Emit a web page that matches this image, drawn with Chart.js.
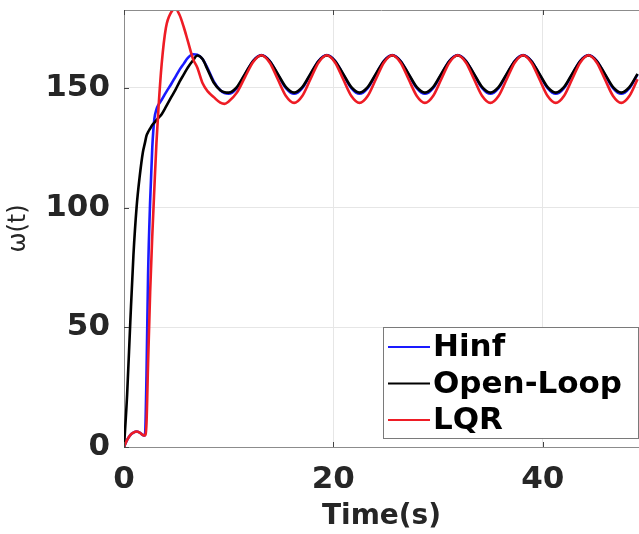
<!DOCTYPE html>
<html>
<head>
<meta charset="utf-8">
<script src="https://cdn.jsdelivr.net/npm/chart.js@4.4.1/dist/chart.umd.min.js"></script>
<style>
html,body{margin:0;padding:0;background:#fff;}
#wrap{width:639px;height:534px;position:relative;}
</style>
</head>
<body>
<div id="wrap"><canvas id="c" width="639" height="534"></canvas></div>
<script>
// time samples (s)
const timeS = [0, 0.3, 0.6, 0.9, 1.2, 1.5, 1.8, 2.0, 2.15, 2.3, 2.5, 2.7, 2.9, 3.1, 3.3, 3.6, 4.0, 4.5, 4.9, 5.3, 5.7, 6.1, 6.6, 7.0, 7.5, 8.0, 8.6, 9.2, 9.6,
  10.0, 10.78, 11.56, 12.34, 13.13, 13.91, 14.69, 15.47, 16.25, 17.03, 17.81, 18.59, 19.38, 20.16, 20.94, 21.72, 22.5, 23.28, 24.06, 24.84,
  25.63, 26.41, 27.19, 27.97, 28.75, 29.53, 30.31, 31.09, 31.88, 32.66, 33.44, 34.22, 35.0, 35.78, 36.56, 37.34, 38.13, 38.91, 39.69, 40.47,
  41.25, 42.03, 42.81, 43.59, 44.38, 45.16, 45.94, 46.72, 47.5, 48.28, 49.06];

const hinf = [0, 3, 5, 6, 6.5, 6, 5, 4.8, 30, 72, 103, 125, 137, 141, 143, 145, 148, 151.5, 154.5, 157.5, 160, 162.5, 164, 163.8, 162, 158, 152.5, 149, 147.8,
  147.5, 149.9, 155.6, 161.3, 163.7, 161.3, 155.6, 149.9,
  147.5, 149.9, 155.6, 161.3, 163.7, 161.3, 155.6, 149.9,
  147.5, 149.9, 155.6, 161.3, 163.7, 161.3, 155.6, 149.9,
  147.5, 149.9, 155.6, 161.3, 163.7, 161.3, 155.6, 149.9,
  147.5, 149.9, 155.6, 161.3, 163.7, 161.3, 155.6, 149.9,
  147.5, 149.9, 155.6, 161.3, 163.7, 161.3, 155.6, 149.9,
  147.5, 149.9, 155.6];

const openLoop = [0, 22, 52, 80, 100, 113, 123, 127, 130, 131.5, 133, 134.5, 135.5, 136.5, 137.5, 139, 142, 146, 149, 152.5, 155.5, 158.5, 161.5, 163.5, 162, 157.5, 152, 149, 148.2,
  148, 150.3, 155.8, 161.2, 163.5, 161.2, 155.8, 150.3,
  148, 150.3, 155.8, 161.2, 163.5, 161.2, 155.8, 150.3,
  148, 150.3, 155.8, 161.2, 163.5, 161.2, 155.8, 150.3,
  148, 150.3, 155.8, 161.2, 163.5, 161.2, 155.8, 150.3,
  148, 150.3, 155.8, 161.2, 163.5, 161.2, 155.8, 150.3,
  148, 150.3, 155.8, 161.2, 163.5, 161.2, 155.8, 150.3,
  148, 150.3, 155.8];

const lqr = [0, 3, 5, 6, 6.5, 6, 5, 4.8, 10, 35, 65, 88, 108, 127, 142, 160, 175, 181.5, 183, 180.5, 175.5, 169.5, 162, 158.5, 152, 148.5, 146, 143.8, 143.3,
  144.3, 148, 154.5, 160.8, 163.6, 160.6, 153.6, 146.6,
  143.7, 146.6, 153.6, 160.6, 163.6, 160.6, 153.6, 146.6,
  143.7, 146.6, 153.6, 160.6, 163.6, 160.6, 153.6, 146.6,
  143.7, 146.6, 153.6, 160.6, 163.6, 160.6, 153.6, 146.6,
  143.7, 146.6, 153.6, 160.6, 163.6, 160.6, 153.6, 146.6,
  143.7, 146.6, 153.6, 160.6, 163.6, 160.6, 153.6, 146.6,
  143.7, 146.6, 153.6];

const seriesNames = ['Hinf', 'Open-Loop', 'LQR'];
const seriesColors = ['#1a1aff', '#000000', '#ee1c25'];
const xTicks = [0, 20, 40];
const yTicks = [0, 50, 100, 150];

const pts = arr => arr.map((v, i) => ({x: timeS[i], y: v}));

const frame = {
  id: 'frame',
  afterDatasetsDraw(chart) {
    const {ctx, chartArea: a, scales: {x, y}} = chart;
    ctx.save();
    ctx.strokeStyle = '#8c8c8c';
    ctx.lineWidth = 1;
    ctx.beginPath();
    ctx.moveTo(a.left, a.top + 0.5); ctx.lineTo(a.right, a.top + 0.5);
    ctx.stroke();
    ctx.strokeStyle = '#444';
    ctx.beginPath();
    xTicks.forEach(v => {
      const px = Math.round(x.getPixelForValue(v)) + 0.5;
      ctx.moveTo(px, a.bottom); ctx.lineTo(px, a.bottom - 5);
      ctx.moveTo(px, a.top); ctx.lineTo(px, a.top + 5);
    });
    yTicks.forEach(v => {
      const py = Math.round(y.getPixelForValue(v)) + 0.5;
      ctx.moveTo(a.left, py); ctx.lineTo(a.left + 5, py);
    });
    ctx.stroke();
    ctx.restore();
  },
  afterDraw(chart) {
    const {ctx, chartArea: a} = chart;
    const bx = 383, by = a.bottom - 120, bw = a.right - 1 - bx, bh = 111;
    ctx.save();
    ctx.fillStyle = '#fff';
    ctx.fillRect(bx, by, bw, bh);
    ctx.strokeStyle = '#7a7a7a';
    ctx.lineWidth = 1;
    ctx.strokeRect(bx + 0.5, by + 0.5, bw, bh);
    ctx.font = 'bold 31px "DejaVu Sans"';
    ctx.textBaseline = 'middle';
    ctx.textAlign = 'left';
    chart.data.datasets.forEach((ds, i) => {
      const yy = by + 20 + i * 36.5;
      ctx.strokeStyle = ds.borderColor;
      ctx.lineWidth = 2;
      ctx.beginPath();
      ctx.moveTo(bx + 5, yy); ctx.lineTo(bx + 47, yy);
      ctx.stroke();
      ctx.fillStyle = '#000';
      ctx.fillText(ds.label, bx + 50, yy + 1);
    });
    ctx.restore();
  }
};

new Chart(document.getElementById('c'), {
  type: 'line',
  data: {
    datasets: [
      {label: seriesNames[0], data: pts(hinf), borderColor: seriesColors[0], order: 3},
      {label: seriesNames[1], data: pts(openLoop), borderColor: seriesColors[1], order: 2},
      {label: seriesNames[2], data: pts(lqr), borderColor: seriesColors[2], order: 1}
    ].map(d => Object.assign(d, {borderWidth: 2.6, pointRadius: 0, fill: false, cubicInterpolationMode: 'monotone'}))
  },
  options: {
    responsive: false,
    animation: false,
    layout: {padding: {top: 10, right: 0, left: 0, bottom: 0}},
    plugins: {legend: {display: false}, tooltip: {enabled: false}},
    scales: {
      x: {
        type: 'linear', min: 0, max: 49.2,
        afterFit: s => { s.height = 87; s.paddingLeft = 0; s.paddingRight = 0; },
        ticks: {stepSize: 20, includeBounds: false, color: '#262626', padding: 14, maxRotation: 0,
          font: {family: 'DejaVu Sans', weight: 'bold', size: 31}},
        grid: {color: '#e6e6e6', drawTicks: false},
        border: {color: '#8c8c8c'},
        title: {display: true, text: 'Time(s)', color: '#262626', padding: {top: 0, bottom: 0},
          font: {family: 'DejaVu Sans', weight: 'bold', size: 28}}
      },
      y: {
        type: 'linear', min: 0, max: 182.5,
        afterFit: s => { s.width = 124; s.paddingTop = 0; s.paddingBottom = 0; },
        ticks: {stepSize: 50, includeBounds: false, color: '#262626', padding: 14,
          font: {family: 'DejaVu Sans', weight: 'bold', size: 31}},
        grid: {color: '#e6e6e6', drawTicks: false},
        border: {color: '#8c8c8c'},
        title: {display: true, text: 'ω(t)', color: '#262626', padding: {top: 4, bottom: 0},
          font: {family: 'DejaVu Sans', size: 24}}
      }
    }
  },
  plugins: [frame]
});
</script>
</body>
</html>
